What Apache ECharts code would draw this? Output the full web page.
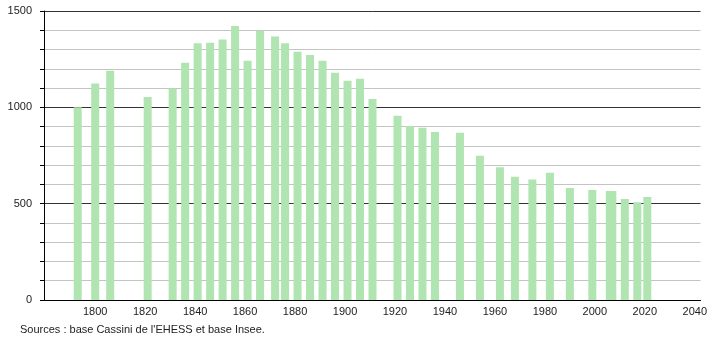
<!DOCTYPE html>
<html>
<head>
<meta charset="utf-8">
<script src="https://cdn.jsdelivr.net/npm/echarts@6/dist/echarts.min.js"></script>
<style>
  html, body { margin: 0; padding: 0; background: #fff; }
  #chart { width: 710px; height: 340px; }
</style>
</head>
<body>
<div id="chart"></div>
<script>
// années de recensement
var years = [1793, 1800, 1806, 1821, 1831, 1836, 1841, 1846, 1851, 1856,
             1861, 1866, 1872, 1876, 1881, 1886, 1891, 1896, 1901, 1906,
             1911, 1921, 1926, 1931, 1936, 1946, 1954, 1962, 1968, 1975,
             1982, 1990, 1999, 2006, 2007, 2012, 2017, 2021];
// population
var population = [1000, 1124, 1190, 1053, 1098, 1232, 1332, 1335, 1352, 1422,
                  1242, 1397, 1367, 1332, 1289, 1271, 1242, 1180, 1138, 1149,
                  1043, 956, 903, 894, 872, 868, 749, 689, 640, 626,
                  661, 581, 571, 566, 566, 524, 508, 534];
var xLabels = [1800, 1820, 1840, 1860, 1880, 1900, 1920, 1940, 1960, 1980, 2000, 2020, 2040];
var yLabels = [0, 500, 1000, 1500];

(function(){

    var chart = echarts.init(document.getElementById('chart'));

    var data = [];
    for (var i = 0; i < years.length; i++) {
        data.push([years[i], population[i]]);
    }

    var option = {
        animation: false,
        textStyle: { fontFamily: 'Liberation Sans, Arial, sans-serif' },
        grid: { left: 44, right: 9, top: 11, bottom: 40 },
        xAxis: {
            type: 'value',
            min: 1779.5,
            max: 2042.3,
            axisLine: { lineStyle: { color: '#000', width: 1 } },
            axisTick: { show: false },
            splitLine: { show: false },
            axisLabel: {
                customValues: xLabels,
                color: '#222',
                fontSize: 11,
                margin: 6,
                formatter: function (v) { return String(v); }
            }
        },
        yAxis: {
            type: 'value',
            min: 0,
            max: 1500,
            interval: 100,
            axisLine: { show: true, lineStyle: { color: '#000', width: 1 } },
            axisTick: { show: true, length: 4, lineStyle: { color: '#000' } },
            axisLabel: {
                color: '#222',
                fontSize: 11,
                margin: 12,
                formatter: function (v) {
                    return yLabels.indexOf(v) >= 0 ? String(v) : '';
                }
            },
            splitLine: {
                show: true,
                lineStyle: { color: ['#333', '#c4c4c4', '#c4c4c4', '#c4c4c4', '#c4c4c4'], width: 1 }
            }
        },
        graphic: [{
            type: 'text',
            left: 20,
            top: 324,
            style: {
                text: "Sources : base Cassini de l'EHESS et base Insee.",
                fill: '#222',
                font: '11px Liberation Sans, Arial, sans-serif'
            }
        }],
        series: [{
            type: 'bar',
            data: data,
            barWidth: 8,
            itemStyle: { color: '#b0e4b0' }
        }]
    };

    chart.setOption(option);
})();
</script>
</body>
</html>
